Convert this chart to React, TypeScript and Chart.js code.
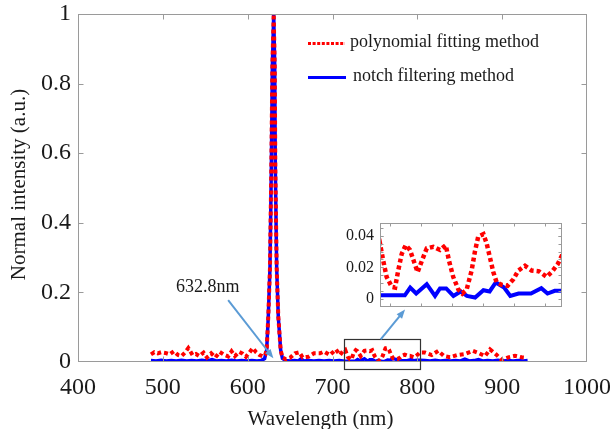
import React, { useEffect, useRef } from "react";
import { Chart, registerables } from "chart.js";
Chart.register(...registerables);

// ---------- data ----------
const polyWavelength = [
  486, 490, 494, 498, 503, 508, 513, 518, 522, 526, 530, 535, 539, 543, 548, 552, 557, 562, 567, 572,
  577, 581, 585, 590, 594, 598, 602, 606, 610, 614, 618, 620.5,
  622.4, 624.3, 626.3, 627.9, 629.1, 630.7, 631.9, 632.6, 634.2, 636.1, 638.9,
  641, 645, 650, 655.8, 660.9, 664.8, 671.5, 678.2, 685.3, 690, 697, 704, 708.8, 712,
  715, 716.6, 718.2, 720.7, 722.3, 723.8, 725.5, 727.4, 729.5, 731.6, 733.2, 735.2, 737.6, 740.8, 744,
  746.8, 748.4, 750.4, 752.9, 754.8, 756.9, 759.3, 760.9, 762.5, 765, 766.6, 768.2, 769.8, 771.4, 773.8,
  776.7, 779.5, 781.9, 785.1, 788.3, 791.9, 795.6, 798.3, 800.9, 802.8,
  809, 817, 824.7, 831.4, 838.5, 847, 856, 865.3, 873, 879.8, 885.7, 892.7, 899.5, 907.2, 915.1, 923, 929,
];
const polyIntensity = [
  0.022, 0.028, 0.025, 0.028, 0.026, 0.022, 0.031, 0.02, 0.017, 0.027, 0.04, 0.02, 0.023, 0.017, 0.027, 0.013, 0.025, 0.013, 0.029, 0.021,
  0.016, 0.031, 0.017, 0.029, 0.024, 0.015, 0.027, 0.04, 0.028, 0.02, 0.016, 0.02,
  0.034, 0.13, 0.27, 0.56, 0.85, 1.0, 0.85, 0.56, 0.27, 0.13, 0.034,
  0.013, 0.008, 0.012, 0.025, 0.028, 0.013, 0.015, 0.025, 0.025, 0.03, 0.02, 0.036, 0.02, 0.03,
  0.035, 0.024, 0.014, 0.0077, 0.0073, 0.018, 0.0285, 0.034, 0.031, 0.023, 0.017, 0.024, 0.032, 0.033, 0.031,
  0.034, 0.024, 0.014, 0.006, 0.0035, 0.006, 0.018, 0.03, 0.0395, 0.041, 0.035, 0.026, 0.017, 0.0105, 0.009,
  0.0084, 0.0126, 0.018, 0.021, 0.018, 0.0175, 0.014, 0.0175, 0.022, 0.027,
  0.027, 0.02, 0.032, 0.017, 0.0135, 0.02, 0.023, 0.032, 0.025, 0.017, 0.036, 0.022, 0.006, 0.0135, 0.018, 0.0135, 0.012,
];
const notchWavelength = [
  486, 492, 498, 504, 510, 516, 522, 528, 534, 540, 546, 552, 558, 563, 569, 575, 581, 587, 593, 599, 605, 611, 616, 620,
  622.4, 624.3, 626.3, 627.9, 629.1, 630.7, 631.9, 632.6, 634.2, 636.1, 638.9,
  641, 645, 650, 655, 660, 663, 666, 672, 678, 684, 690, 696, 702, 708,
  715, 727, 729.6, 732.5, 737.6, 741.6, 744, 747, 750.5, 754, 757, 761, 765, 768, 771, 775, 778, 782, 788, 793, 796, 799.5, 803,
  809, 815, 821, 827, 833, 839, 845, 851, 856, 861, 867, 872, 877, 883, 889, 895, 901, 907, 913, 919, 925, 930,
];
const notchIntensity = [
  0.004, 0.003, 0.005, 0.003, 0.004, 0.003, 0.005, 0.003, 0.004, 0.003, 0.005, 0.003, 0.007, 0.003, 0.004, 0.003, 0.005, 0.003, 0.004, 0.003, 0.004, 0.003, 0.004, 0.01,
  0.034, 0.13, 0.27, 0.56, 0.85, 1.0, 0.85, 0.56, 0.27, 0.13, 0.034,
  0.01, 0.004, 0.003, 0.004, 0.003, 0.009, 0.003, 0.004, 0.003, 0.004, 0.003, 0.004, 0.003, 0.004,
  0.0024, 0.0024, 0.0073, 0.0035, 0.0094, 0.002, 0.0067, 0.0067, 0.002, 0.0048, 0.002, 0.001, 0.0056, 0.0048, 0.0105, 0.0073, 0.002, 0.0035, 0.0035, 0.0069, 0.0035, 0.0052, 0.0052,
  0.004, 0.003, 0.005, 0.003, 0.004, 0.003, 0.004, 0.003, 0.008, 0.003, 0.004, 0.007, 0.003, 0.004, 0.003, 0.005, 0.003, 0.004, 0.003, 0.004, 0.003, 0.004,
];

const seriesLabels = ["polynomial fitting method", "notch filtering method"];
const xTicks = [400, 500, 600, 700, 800, 900, 1000];
const yTicks = [0, 0.2, 0.4, 0.6, 0.8, 1];
const insetXTicks = [720, 735, 750, 765, 780, 795];
const insetYTicks = [0, 0.02, 0.04];
const insetYMinorTicks = [0.005, 0.01, 0.015, 0.02, 0.025, 0.03, 0.035, 0.04, 0.045];
const xTitle = "Wavelength (nm)";
const yTitle = "Normal intensity (a.u.)";
const peakLabel = "632.8nm";
const zoomWindow = [713, 802];
const zoomWindowY = [-0.021, 0.065];
const insetYRange = [-0.005, 0.048];

// ---------- styling ----------
const FONT = "'Liberation Serif', 'Times New Roman', serif";
const RED = "#ff0000";
const BLUE = "#0000ff";
const ARROW = "#5b9bd5";
const FRAME = "#9a9a9a";
const TEXT = "#1a1a1a";

const pts = (xs: number[], ys: number[]) => xs.map((x, i) => ({ x, y: ys[i] }));

function framePlugin(tickLen: number, minorY: number[] = []) {
  return {
    id: "frame",
    afterDatasetsDraw(chart: any) {
      const { ctx, chartArea: a, scales } = chart;
      const xs = scales.x, ys = scales.y;
      ctx.save();
      ctx.strokeStyle = FRAME;
      ctx.lineWidth = 1;
      const L = Math.round(a.left) + 0.5, R = Math.round(a.right) - 0.5;
      const T = Math.round(a.top) + 0.5, B = Math.round(a.bottom) - 0.5;
      ctx.strokeRect(L, T, R - L, B - T);
      ctx.beginPath();
      xs.ticks.forEach((t: any) => {
        const p = Math.round(xs.getPixelForValue(t.value)) + 0.5;
        if (p <= L + 1 || p >= R - 1) return;
        ctx.moveTo(p, T); ctx.lineTo(p, T + tickLen);
        ctx.moveTo(p, B); ctx.lineTo(p, B - tickLen);
      });
      const yv = ys.ticks.map((t: any) => t.value).concat(minorY);
      yv.forEach((v: number) => {
        const p = Math.round(ys.getPixelForValue(v)) + 0.5;
        if (p <= T + 1 || p >= B - 1) return;
        ctx.moveTo(L, p); ctx.lineTo(L + tickLen, p);
        ctx.moveTo(R, p); ctx.lineTo(R - tickLen, p);
      });
      ctx.stroke();
      ctx.restore();
    },
  };
}

function drawArrow(ctx: CanvasRenderingContext2D, x1: number, y1: number, x2: number, y2: number) {
  const ang = Math.atan2(y2 - y1, x2 - x1);
  const hl = 9, hw = 3.5;
  ctx.save();
  ctx.strokeStyle = ARROW;
  ctx.fillStyle = ARROW;
  ctx.lineWidth = 2;
  ctx.beginPath();
  ctx.moveTo(x1, y1);
  ctx.lineTo(x2 - Math.cos(ang) * hl * 0.8, y2 - Math.sin(ang) * hl * 0.8);
  ctx.stroke();
  ctx.beginPath();
  ctx.moveTo(x2, y2);
  ctx.lineTo(x2 - Math.cos(ang) * hl - Math.sin(ang) * hw, y2 - Math.sin(ang) * hl + Math.cos(ang) * hw);
  ctx.lineTo(x2 - Math.cos(ang) * hl + Math.sin(ang) * hw, y2 - Math.sin(ang) * hl - Math.cos(ang) * hw);
  ctx.closePath();
  ctx.fill();
  ctx.restore();
}

const decorPlugin = {
  id: "decor",
  afterDraw(chart: any) {
    const { ctx, scales } = chart;
    const X = (v: number) => scales.x.getPixelForValue(v);
    const Y = (v: number) => scales.y.getPixelForValue(v);
    ctx.save();
    // zoom window rectangle
    ctx.strokeStyle = "#333333";
    ctx.lineWidth = 1.2;
    const rx1 = X(zoomWindow[0]), rx2 = X(zoomWindow[1]);
    const ry1 = Y(zoomWindowY[1]), ry2 = Y(zoomWindowY[0]);
    ctx.strokeRect(Math.round(rx1) + 0.5, Math.round(ry1) + 0.5, Math.round(rx2 - rx1), Math.round(ry2 - ry1));
    // arrows
    drawArrow(ctx, X(577), Y(0.178), X(630.3), Y(0.011));
    drawArrow(ctx, X(756.8), Y(0.065), X(785.5), Y(0.151));
    // peak label
    ctx.fillStyle = TEXT;
    ctx.font = `18px ${FONT}`;
    ctx.textAlign = "center";
    ctx.textBaseline = "middle";
    ctx.fillText(peakLabel, X(553), Y(0.216));
    // legend
    ctx.lineWidth = 3;
    ctx.strokeStyle = RED;
    ctx.setLineDash([3, 1.6]);
    ctx.beginPath(); ctx.moveTo(308, 43.5); ctx.lineTo(345, 43.5); ctx.stroke();
    ctx.setLineDash([]);
    ctx.strokeStyle = BLUE;
    ctx.beginPath(); ctx.moveTo(308, 77.5); ctx.lineTo(346, 77.5); ctx.stroke();
    ctx.textAlign = "left";
    ctx.font = `18px ${FONT}`;
    ctx.fillText(seriesLabels[0], 350, 42);
    ctx.fillText(seriesLabels[1], 353, 76);
    // axis titles
    ctx.font = `21px ${FONT}`;
    ctx.textAlign = "center";
    ctx.fillText(xTitle, 320.5, 419);
    ctx.translate(19.5, 184.5);
    ctx.rotate(-Math.PI / 2);
    ctx.fillText(yTitle, 0, 0);
    ctx.restore();
  },
};

export default function App() {
  const mainRef = useRef<HTMLCanvasElement>(null);
  const insetRef = useRef<HTMLCanvasElement>(null);

  useEffect(() => {
    const datasets = (w: number, bw: number, dash: number[]) => [
      {
        label: seriesLabels[0],
        data: pts(polyWavelength, polyIntensity),
        borderColor: RED,
        borderWidth: w,
        borderDash: dash,
        pointRadius: 0,
        tension: 0,
        fill: false,
      },
      {
        label: seriesLabels[1],
        data: pts(notchWavelength, notchIntensity),
        borderColor: BLUE,
        borderWidth: bw,
        pointRadius: 0,
        tension: 0,
        fill: false,
      },
    ];

    const main = new Chart(mainRef.current!, {
      type: "line",
      data: { datasets: datasets(4, 3.5, [4, 3]) as any },
      options: {
        animation: false,
        responsive: false,
        events: [],
        layout: { padding: { top: 14, right: 23, left: 0, bottom: 0 } },
        plugins: { legend: { display: false }, tooltip: { enabled: false } },
        scales: {
          x: {
            type: "linear",
            min: 400,
            max: 1000,
            grid: { display: false, drawTicks: false },
            border: { display: false },
            afterBuildTicks: (s: any) => { s.ticks = xTicks.map((v) => ({ value: v })); },
            afterFit: (s: any) => { s.height = 67; s.paddingLeft = 0; s.paddingRight = 0; },
            ticks: {
              font: { family: FONT, size: 24, lineHeight: 1.2 },
              color: TEXT,
              padding: 11,
              maxRotation: 0,
              autoSkip: false,
              callback: (v: any) => String(v),
            },
          },
          y: {
            type: "linear",
            min: 0,
            max: 1,
            grid: { display: false, drawTicks: false },
            border: { display: false },
            afterBuildTicks: (s: any) => { s.ticks = yTicks.map((v) => ({ value: v })); },
            afterFit: (s: any) => { s.width = 78; s.paddingTop = 0; s.paddingBottom = 0; },
            ticks: {
              font: { family: FONT, size: 24, lineHeight: 1.2 },
              color: TEXT,
              padding: 7,
              autoSkip: false,
              callback: (v: any) => String(v),
            },
          },
        },
      },
      plugins: [framePlugin(5), decorPlugin],
    });

    const inset = new Chart(insetRef.current!, {
      type: "line",
      data: { datasets: datasets(4.5, 4, [4, 3]).map((d) => ({ ...d, clip: 0 })) as any },
      options: {
        animation: false,
        responsive: false,
        events: [],
        layout: { padding: { top: 13, right: 8, left: 0, bottom: 0 } },
        plugins: { legend: { display: false }, tooltip: { enabled: false } },
        scales: {
          x: {
            type: "linear",
            min: 715,
            max: 803,
            grid: { display: false, drawTicks: false },
            border: { display: false },
            afterBuildTicks: (s: any) => { s.ticks = insetXTicks.map((v) => ({ value: v })); },
            afterFit: (s: any) => { s.height = 13; s.paddingLeft = 0; s.paddingRight = 0; },
            ticks: { display: false },
          },
          y: {
            type: "linear",
            min: insetYRange[0],
            max: insetYRange[1],
            grid: { display: false, drawTicks: false },
            border: { display: false },
            afterBuildTicks: (s: any) => { s.ticks = insetYTicks.map((v) => ({ value: v })); },
            afterFit: (s: any) => { s.width = 50; s.paddingTop = 0; s.paddingBottom = 0; },
            ticks: {
              font: { family: FONT, size: 16, lineHeight: 1.2 },
              color: TEXT,
              padding: 6,
              autoSkip: false,
              callback: (v: any) => String(v),
            },
          },
        },
      },
      plugins: [
        {
          id: "insetBg",
          beforeDatasetsDraw(chart: any) {
            const { ctx, chartArea: a } = chart;
            ctx.save();
            ctx.fillStyle = "#ffffff";
            ctx.fillRect(a.left, a.top, a.right - a.left, a.bottom - a.top);
            ctx.restore();
          },
        },
        framePlugin(3, insetYMinorTicks),
      ],
    });

    return () => {
      main.destroy();
      inset.destroy();
    };
  }, []);

  return (
    <div style={{ position: "fixed", left: 0, top: 0, width: 610, height: 429, background: "#ffffff", overflow: "hidden" }}>
      <canvas ref={mainRef} width={610} height={429} style={{ position: "absolute", left: 0, top: 0, width: 610, height: 429 }} />
      <canvas ref={insetRef} width={240} height={110} style={{ position: "absolute", left: 330, top: 210, width: 240, height: 110 }} />
    </div>
  );
}
